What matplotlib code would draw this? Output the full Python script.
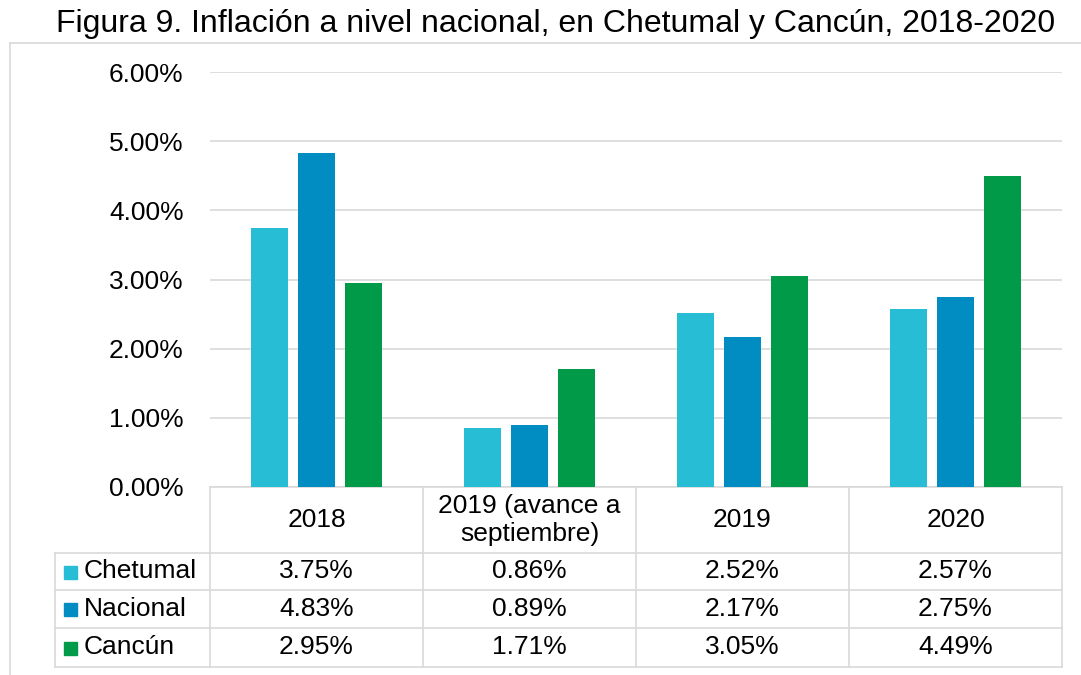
import matplotlib
matplotlib.use("Agg")
import matplotlib.pyplot as plt
from matplotlib.transforms import blended_transform_factory
from matplotlib.patches import Rectangle

plt.rcParams["font.family"] = ["Liberation Sans", "DejaVu Sans"]

# ── data ────────────────────────────────────────────────────────────────────
categories = ["2018", "2019 (avance a\nseptiembre)", "2019", "2020"]
series = ["Chetumal", "Nacional", "Cancún"]
chetumal = [3.75, 0.86, 2.52, 2.57]
nacional = [4.83, 0.89, 2.17, 2.75]
cancun = [2.95, 1.71, 3.05, 4.49]
colors = ["#27BDD4", "#028DC2", "#009A48"]
title = "Figura 9. Inflación a nivel nacional, en Chetumal y Cancún, 2018-2020"

values = [chetumal, nacional, cancun]

W, H = 1081, 675
fig = plt.figure(figsize=(W / 100, H / 100), dpi=100)

# pixel helpers (origin top-left)
def fx(px):
    return px / W

def fy(py):
    return 1 - py / H

# chart border (only left and top edges fall inside the picture)
fig.add_artist(plt.Line2D([fx(10), fx(10)], [fy(43), 0], color="#D9D9D9",
                          lw=1.2, transform=fig.transFigure))
fig.add_artist(plt.Line2D([fx(10), 1], [fy(43), fy(43)], color="#D9D9D9",
                          lw=1.2, transform=fig.transFigure))

fig.text(fx(556), fy(24), title, ha="center", va="center", fontsize=23)

left, right, top, bottom = 210, 1062, 72, 487
ax = fig.add_axes([fx(left), fy(bottom), fx(right - left), fy(top) - fy(bottom)])

bw = 0.175
offsets = [-0.22, 0, 0.22]
x = range(len(categories))
for vals, off, c in zip(values, offsets, colors):
    ax.bar([i + off for i in x], vals, width=bw, color=c, zorder=3)

ax.set_xlim(-0.5, len(categories) - 0.5)
ax.set_ylim(0, 6)
ax.set_yticks(range(0, 7))
ax.set_yticklabels([f"{v:.2f}%" for v in range(0, 7)])
ax.tick_params(axis="y", length=0, pad=19, labelsize=19)
ax.set_xticks([])
ax.grid(axis="y", color="#D9D9D9", lw=1.2, zorder=0)
for s in ax.spines.values():
    s.set_visible(False)

# ── data table below the plot ───────────────────────────────────────────────
tr = blended_transform_factory(ax.transData, fig.transFigure)
unit = (right - left) / len(categories)
xl = -0.5 - (left - 55) / unit   # left edge of legend column
grid_kw = dict(color="#D9D9D9", lw=1.2, transform=tr, clip_on=False)

row_y = [553, 590, 628, 667]
ax.plot([-0.5, 3.5], [fy(bottom)] * 2, **grid_kw)
for yy in row_y:
    ax.plot([xl, 3.5], [fy(yy)] * 2, **grid_kw)
for k in range(len(categories) + 1):
    ax.plot([k - 0.5] * 2, [fy(bottom), fy(667)], **grid_kw)
ax.plot([xl] * 2, [fy(553), fy(667)], **grid_kw)

for i, cat in enumerate(categories):
    ax.text(i, fy(520), cat, ha="center", va="center", fontsize=19,
            linespacing=1.2, transform=tr)

for r, (name, vals, c) in enumerate(zip(series, values, colors)):
    yc = (row_y[r] + row_y[r + 1]) / 2
    ax.add_patch(Rectangle((fx(64), fy(yc + 7)), fx(13), fy(yc - 6) - fy(yc + 7),
                           transform=fig.transFigure, color=c, clip_on=False))
    fig.text(fx(84), fy(yc), name, ha="left", va="center", fontsize=19)
    for i, v in enumerate(vals):
        ax.text(i, fy(yc), f"{v:.2f}%", ha="center", va="center", fontsize=19,
                transform=tr)

fig.savefig("out.png", dpi=100)
